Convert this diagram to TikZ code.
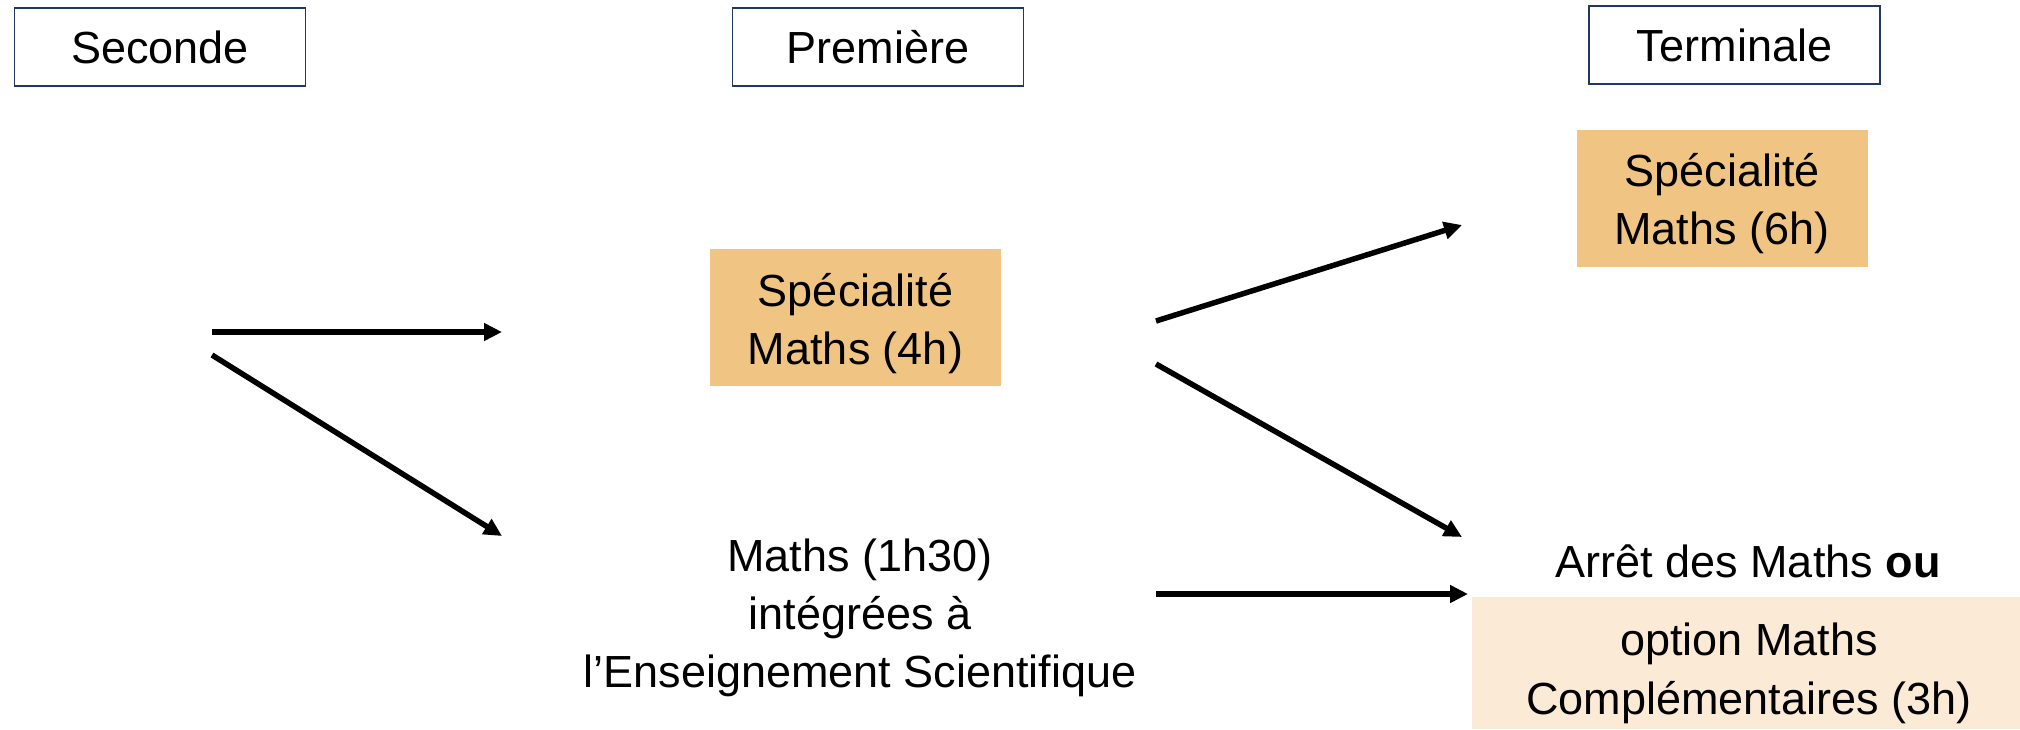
\documentclass[tikz,border=0pt]{standalone}
\usepackage{fontspec}
\setmainfont{Liberation Sans}
\usetikzlibrary{arrows.meta}
\definecolor{navy}{HTML}{203864}
\definecolor{orangebox}{HTML}{F0C584}
\definecolor{lightbox}{HTML}{FBEAD6}
\tikzset{
  bigtext/.style={font=\fontsize{45}{58}\selectfont, align=center, inner sep=0pt},
  header/.style={draw=navy, line width=1.6pt, fill=white, minimum width=291pt, minimum height=78pt, inner sep=0pt, font=\fontsize{45}{58}\selectfont},
  specbox/.style={fill=orangebox, minimum width=291pt, minimum height=137pt, inner sep=0pt},
  flow/.style={line width=5.5pt, -{Triangle[length=18pt,width=17pt]}}
}
\begin{document}
\begin{tikzpicture}[x=1pt,y=-1pt]
\useasboundingbox (0,0) rectangle (2020,729);
% headers
\node[header] (sec) at (160,47) {Seconde};
\node[header] (prem) at (878,47) {Première};
\node[header] (term) at (1734.5,45) {Terminale};
% boxes
\node[specbox] (spec4) at (855.5,317) {};
\node[bigtext] (spec4t) at (855.5,324) {Spécialité\\Maths (4h)};
\node[specbox] (spec6) at (1722,198.5) {};
\node[bigtext] (spec6t) at (1722,204) {Spécialité\\Maths (6h)};
\node[bigtext] (ens) at (860,618) {Maths (1h30)\\intégrées à\\l’Enseignement Scientifique};
\node[bigtext, anchor=base] (arret) at (1748,577) {Arrêt des Maths \textbf{ou}};
\node[fill=lightbox, minimum width=548pt, minimum height=132pt, inner sep=0pt] (compbox) at (1746,663) {};
\node[bigtext, font=\fontsize{45}{59}\selectfont] (comp) at (1749,673) {option Maths\\Complémentaires (3h)};
% connector end points
\coordinate (a1s) at (212,332);
\coordinate (a1e) at (502,332);
\coordinate (a2s) at (212,355);
\coordinate (a2e) at (502,536);
\coordinate (a3s) at (1156,321);
\coordinate (a3e) at (1462,225);
\coordinate (a4s) at (1156,364);
\coordinate (a4e) at (1462,537);
\coordinate (a5s) at (1156,594);
\coordinate (a5e) at (1468,594);
\draw[flow] (a1s) -- (a1e);
\draw[flow] (a2s) -- (a2e);
\draw[flow] (a3s) -- (a3e);
\draw[flow] (a4s) -- (a4e);
\draw[flow] (a5s) -- (a5e);
\end{tikzpicture}
\end{document}
